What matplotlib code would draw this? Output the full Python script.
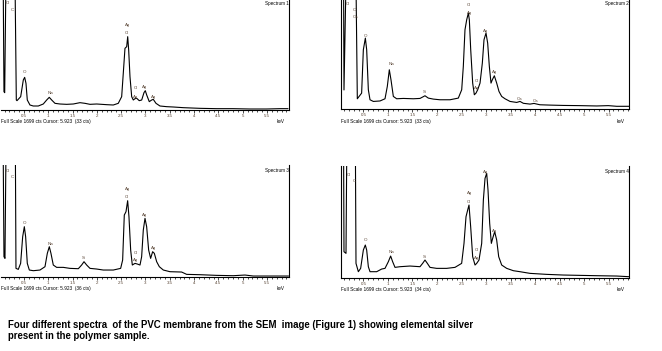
import numpy as np
import matplotlib
matplotlib.use("Agg")
import matplotlib.pyplot as plt

plt.rcParams['font.family'] = ['Liberation Sans', 'DejaVu Sans']

# spectra: energy (keV) and counts
e1 = [0.062, 0.088, 0.103, 0.144, 0.30, 0.342, 0.356, 0.432, 0.486, 0.514, 0.541, 0.568, 0.623, 0.691,
      0.794, 0.897, 0.967, 1.02, 1.07, 1.138, 1.24, 1.378, 1.514, 1.652, 1.755, 1.858, 1.996, 2.2, 2.337,
      2.44, 2.51, 2.543, 2.578, 2.613, 2.634, 2.654, 2.681, 2.716, 2.749, 2.784, 2.82, 2.872, 2.922, 2.969,
      2.996, 3.025, 3.078, 3.128, 3.16, 3.216, 3.298, 3.436, 3.572, 3.778, 4.12, 4.465, 4.8, 5.15, 5.49,
      5.77, 5.93]
c1 = [3000, 275, 260, 3000, 3000, 150, 140, 200, 450, 490, 400, 150, 75, 60,
      60, 90, 150, 190, 150, 100, 90, 85, 90, 110, 100, 85, 90, 80, 75,
      100, 200, 550, 925, 950, 1100, 900, 500, 200, 150, 170, 175, 140, 150, 260,
      290, 225, 125, 150, 160, 100, 60, 50, 45, 35, 25, 20, 20, 15, 15,
      20, 20]

e2 = [0.088, 0.102, 0.17, 0.33, 0.374, 0.462, 0.497, 0.538, 0.565, 0.599, 0.633, 0.701, 0.837, 0.939,
      0.986, 1.027, 1.061, 1.109, 1.177, 1.313, 1.517, 1.653, 1.755, 1.823, 1.925, 2.061, 2.265, 2.435,
      2.504, 2.537, 2.571, 2.606, 2.64, 2.66, 2.688, 2.728, 2.762, 2.796, 2.83, 2.878, 2.925, 2.959, 3.0,
      3.034, 3.068, 3.102, 3.129, 3.17, 3.218, 3.265, 3.32, 3.388, 3.49, 3.626, 3.694, 3.762, 3.898, 3.98,
      4.1, 4.306, 4.578, 4.918, 5.259, 5.496, 5.667, 5.918]
c2 = [3000, 290, 3000, 3000, 158, 243, 893, 1068, 893, 293, 143, 118, 125, 158,
      343, 593, 443, 193, 158, 163, 158, 163, 203, 168, 153, 143, 143, 168,
      293, 643, 1193, 1343, 1443, 1343, 893, 393, 218, 243, 293, 393, 693, 1043, 1143,
      993, 643, 393, 443, 503, 393, 268, 193, 158, 118, 103, 118, 90, 78, 88,
      68, 63, 58, 55, 50, 55, 45, 45]

e3 = [0.061, 0.088, 0.109, 0.143, 0.315, 0.335, 0.383, 0.431, 0.473, 0.507, 0.534, 0.568, 0.61, 0.692,
      0.829, 0.932, 0.98, 1.021, 1.055, 1.103, 1.172, 1.309, 1.446, 1.618, 1.686, 1.735, 1.79, 1.858,
      1.995, 2.132, 2.338, 2.489, 2.53, 2.564, 2.599, 2.633, 2.66, 2.695, 2.729, 2.784, 2.832, 2.887,
      2.921, 2.955, 2.99, 3.024, 3.065, 3.106, 3.147, 3.182, 3.23, 3.285, 3.367, 3.504, 3.744, 3.847,
      4.121, 4.464, 4.807, 5.047, 5.219, 5.939]
c3 = [3000, 300, 275, 3000, 3000, 125, 110, 200, 600, 750, 600, 200, 100, 90,
      100, 150, 350, 450, 350, 175, 140, 140, 125, 120, 175, 225, 175, 125,
      115, 100, 100, 125, 250, 925, 975, 1140, 900, 400, 175, 200, 190, 175,
      300, 700, 875, 750, 400, 275, 375, 350, 225, 150, 100, 75, 70, 35,
      30, 20, 15, 25, 10, 10]

e4 = [0.088, 0.102, 0.143, 0.17, 0.327, 0.347, 0.395, 0.442, 0.497, 0.537, 0.565, 0.599, 0.633, 0.769,
      0.871, 0.939, 1.007, 1.054, 1.095, 1.143, 1.245, 1.449, 1.653, 1.707, 1.755, 1.803, 1.857, 1.993,
      2.197, 2.367, 2.503, 2.551, 2.592, 2.626, 2.653, 2.687, 2.728, 2.776, 2.81, 2.857, 2.912, 2.946,
      2.98, 3.014, 3.041, 3.075, 3.109, 3.136, 3.177, 3.218, 3.259, 3.32, 3.422, 3.558, 3.694, 3.898,
      4.238, 4.578, 4.918, 5.259, 5.667, 5.918]
c4 = [3000, 390, 365, 3000, 3000, 215, 90, 140, 415, 490, 415, 165, 90, 90,
      130, 140, 240, 325, 240, 155, 165, 175, 165, 215, 265, 215, 155, 140,
      140, 155, 215, 515, 915, 1015, 1090, 765, 315, 190, 215, 265, 515, 1165,
      1490, 1565, 1315, 815, 515, 590, 690, 565, 315, 190, 140, 105, 90, 65,
      50, 40, 35, 30, 25, 15]

# peak labels: (keV, counts, element)
lab1 = [(0.157, 1600, 'Cl'), (0.267, 1500, 'C'), (0.514, 575, 'O'), (1.035, 250, 'Na'),
        (2.633, 1275, 'Ag'), (2.62, 1150, 'Cl'), (2.80, 325, 'Cl'), (2.80, 200, 'Ag'),
        (2.99, 340, 'Ag'), (3.16, 190, 'Ag')]
lab2 = [(0.19, 1580, 'Cl'), (0.306, 1490, 'C'), (0.327, 1390, 'Ca'), (0.551, 1100, 'O'),
        (1.061, 680, 'Na'), (1.755, 265, 'Si'), (2.64, 1565, 'Cl'), (2.66, 1450, 'Ag'),
        (2.81, 430, 'Cl'), (2.81, 315, 'Ag'), (2.993, 1180, 'Ag'), (3.17, 555, 'Ag'),
        (3.68, 150, 'Ca'), (4.02, 130, 'Ca')]
lab3 = [(0.157, 1590, 'Cl'), (0.267, 1500, 'C'), (0.514, 810, 'O'), (1.035, 485, 'Na'),
        (1.735, 285, 'Si'), (2.633, 1310, 'Ag'), (2.62, 1190, 'Cl'), (2.80, 360, 'Cl'),
        (2.80, 250, 'Ag'), (2.99, 925, 'Ag'), (3.16, 425, 'Ag')]
lab4 = [(0.204, 1540, 'Cl'), (0.306, 1450, 'C'), (0.551, 565, 'O'), (1.061, 390, 'Na'),
        (1.755, 315, 'Si'), (2.66, 1265, 'Ag'), (2.64, 1140, 'Cl'), (2.81, 415, 'Cl'),
        (2.81, 290, 'Ag'), (2.993, 1590, 'Ag'), (3.17, 705, 'Ag')]

titles = ['Spectrum 1', 'Spectrum 2', 'Spectrum 3', 'Spectrum 4']
cursor_cts = ['33', '33', '36', '34']
tick_vals = [0.5, 1, 1.5, 2, 2.5, 3, 3.5, 4, 4.5, 5, 5.5]
tick_labels = ['0.5', '1', '1.5', '2', '2.5', '3', '3.5', '4', '4.5', '5', '5.5']

W, H = 662, 351
fig = plt.figure(figsize=(W / 100, H / 100), dpi=100)

# axes boxes in pixels: left, right, top, bottom, xmin keV, xmax keV, show left spine
boxes = [(1, 289, -2, 110, 0.027, 5.953, False),
         (341, 629, -2.7, 109.3, 0.041, 5.918, True),
         (1, 289, 164.7, 276.7, 0.027, 5.953, False),
         (341, 629, 165.7, 277.7, 0.041, 5.918, True)]
spectra = [(e1, c1, lab1), (e2, c2, lab2), (e3, c3, lab3), (e4, c4, lab4)]
txt_col = '#5a4636'

for i, (box, (e, c, labs)) in enumerate(zip(boxes, spectra)):
    l, r, t, b, x0, x1, lspine = box
    ax = fig.add_axes([l / W, 1 - b / H, (r - l) / W, (b - t) / H])
    ax.plot(e, c, color='black', lw=0.8)
    ax.set_xlim(x0, x1)
    ax.set_ylim(0, 1680)
    ax.spines['top'].set_visible(False)
    ax.spines['left'].set_visible(lspine)
    for side in ['right', 'bottom', 'left']:
        ax.spines[side].set_linewidth(0.8)
    ax.set_yticks([])
    ax.set_xticks(tick_vals)
    ax.set_xticklabels(tick_labels)
    ax.set_xticks(np.arange(0.1, 5.95, 0.1), minor=True)
    ax.tick_params(axis='x', which='major', length=2, width=0.5, pad=1,
                   labelsize=3.2, labelcolor=txt_col)
    ax.tick_params(axis='x', which='minor', length=1.2, width=0.5)
    for x, y, s in labs:
        ax.text(x, y, s, fontsize=3.2, color=txt_col, ha='center', va='center')
    ax.text(1.0, 1 - 6 / (b - t), titles[i], transform=ax.transAxes, fontsize=3.3,
            ha='right', va='center', color='black')
    ax.text(0.0, -12 / (b - t),
            'Full Scale 1699 cts Cursor: 5.923  (' + cursor_cts[i] + ' cts)',
            transform=ax.transAxes, fontsize=3.4, ha='left', va='center', color='black')
    ax.text(0.985, -12 / (b - t), 'keV', transform=ax.transAxes, fontsize=3.3,
            ha='right', va='center', color='black')

fig.text(8 / W, 1 - 325.5 / H,
         'Four different spectra  of the PVC membrane from the SEM  image (Figure 1) showing elemental silver',
         fontsize=6.9, fontweight='bold', ha='left', va='center')
fig.text(8 / W, 1 - 336 / H, 'present in the polymer sample.',
         fontsize=6.9, fontweight='bold', ha='left', va='center')

fig.savefig('out.png', dpi=100, facecolor='white')
